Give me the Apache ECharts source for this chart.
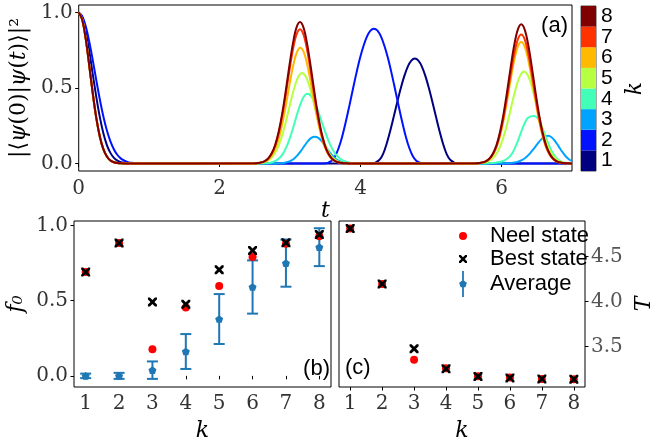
<!DOCTYPE html>
<html>
<head>
<meta charset="utf-8">
<script src="https://cdn.jsdelivr.net/npm/echarts@6/dist/echarts.min.js"></script>
<style>
html, body { margin: 0; padding: 0; background: #fff; }
#chart { width: 656px; height: 447px; }
</style>
</head>
<body>
<div id="chart"></div>
<script>
// ---------- panel (a): return probability for chain lengths k = 1..8 ----------
const kLabels = ['1', '2', '3', '4', '5', '6', '7', '8'];
const kColors = ['#000080', '#0012ff', '#00a4ff', '#41ffb6', '#b6ff41', '#ffb900', '#ff3200', '#800000'];
const tTicks = [0, 2, 4, 6];
const probTicks = [0, 0.5, 1.0];

// fast initial decay shared by k = 3..8
const decayFast = [[0,1],[0.05,0.953],[0.1,0.825],[0.15,0.649],[0.2,0.463],[0.25,0.30],[0.3,0.177],[0.35,0.095],[0.4,0.046],[0.45,0.02],[0.5,0.008],[0.55,0.003],[0.6,0.001],[0.65,0]];

const curveK1 = [[0,1],[0.05,0.968],[0.1,0.877],[0.15,0.744],[0.2,0.59],[0.25,0.44],[0.3,0.307],[0.35,0.2],[0.4,0.122],[0.45,0.07],[0.5,0.037],[0.55,0.019],[0.6,0.009],[0.65,0.004],[0.7,0.001],[0.75,0],
  [4.17,0],[4.22,0.008],[4.27,0.025],[4.32,0.064],[4.37,0.131],[4.42,0.215],[4.47,0.309],[4.52,0.406],[4.57,0.498],[4.62,0.579],[4.67,0.642],[4.72,0.681],[4.77,0.695],
  [4.82,0.681],[4.87,0.642],[4.92,0.579],[4.97,0.498],[5.02,0.406],[5.07,0.309],[5.12,0.215],[5.17,0.131],[5.22,0.064],[5.27,0.025],[5.32,0.008],[5.37,0],[7,0]];

const curveK2 = [[0,1],[0.05,0.976],[0.1,0.909],[0.15,0.807],[0.2,0.683],[0.25,0.551],[0.3,0.424],[0.35,0.311],[0.4,0.218],[0.45,0.146],[0.5,0.093],[0.55,0.056],[0.6,0.032],[0.65,0.018],[0.7,0.009],[0.75,0.004],[0.8,0.002],[0.85,0],
  [3.49,0],[3.54,0.005],[3.59,0.018],[3.64,0.05],[3.69,0.104],[3.74,0.181],[3.79,0.276],[3.84,0.381],[3.89,0.49],[3.94,0.597],[3.99,0.695],[4.04,0.777],[4.09,0.84],[4.14,0.88],[4.19,0.893],
  [4.24,0.88],[4.29,0.84],[4.34,0.777],[4.39,0.695],[4.44,0.597],[4.49,0.49],[4.54,0.381],[4.59,0.276],[4.64,0.181],[4.69,0.104],[4.74,0.05],[4.79,0.018],[4.84,0.005],[4.89,0],[7,0]];

const curveK3 = [...decayFast,
  [2.8,0],[2.85,0.001],[2.9,0.003],[2.95,0.008],[3.0,0.016],[3.05,0.03],[3.1,0.052],[3.15,0.081],[3.2,0.114],[3.25,0.146],[3.3,0.169],[3.35,0.177],
  [3.4,0.169],[3.45,0.146],[3.5,0.114],[3.55,0.081],[3.6,0.052],[3.65,0.03],[3.7,0.016],[3.75,0.008],[3.8,0.003],[3.85,0.001],[3.9,0],
  [6.01,0],[6.06,0.001],[6.11,0.002],[6.16,0.004],[6.21,0.008],[6.26,0.016],[6.31,0.028],[6.36,0.046],[6.41,0.07],[6.46,0.099],[6.51,0.13],[6.56,0.158],[6.61,0.177],[6.66,0.184],
  [6.71,0.174],[6.76,0.148],[6.81,0.113],[6.86,0.078],[6.91,0.048],[6.96,0.026],[7,0.015]];

const curveK4 = [...decayFast,
  [2.595,0],[2.645,0.001],[2.695,0.003],[2.745,0.008],[2.795,0.017],[2.845,0.034],[2.895,0.062],[2.945,0.106],[2.995,0.166],[3.045,0.24],[3.095,0.32],[3.145,0.392],[3.195,0.444],[3.245,0.462],
  [3.295,0.448],[3.345,0.408],[3.395,0.349],[3.445,0.28],[3.495,0.212],[3.545,0.15],[3.595,0.1],[3.645,0.062],[3.695,0.037],[3.745,0.02],[3.795,0.011],[3.845,0.005],[3.895,0.002],[3.945,0.001],[4.0,0],
  [5.765,0],[5.815,0.001],[5.865,0.003],[5.915,0.005],[5.965,0.009],[6.015,0.015],[6.065,0.026],[6.115,0.045],[6.165,0.078],[6.215,0.129],[6.265,0.191],[6.315,0.252],[6.365,0.298],[6.415,0.312],[6.465,0.315],
  [6.515,0.298],[6.565,0.252],[6.615,0.191],[6.665,0.129],[6.715,0.078],[6.765,0.043],[6.815,0.021],[6.865,0.009],[6.915,0.003],[6.965,0.001],[7,0]];

const curveK5 = [...decayFast,
  [2.47,0],[2.52,0.001],[2.57,0.003],[2.62,0.007],[2.67,0.016],[2.72,0.031],[2.77,0.058],[2.82,0.1],[2.87,0.161],[2.92,0.241],[2.97,0.335],[3.02,0.432],[3.07,0.518],[3.12,0.578],[3.17,0.6],
  [3.22,0.578],[3.27,0.518],[3.32,0.432],[3.37,0.335],[3.42,0.241],[3.47,0.161],[3.52,0.1],[3.57,0.058],[3.62,0.031],[3.67,0.016],[3.72,0.007],[3.77,0.003],[3.82,0.001],[3.87,0],
  [5.62,0],[5.67,0.001],[5.72,0.003],[5.77,0.007],[5.82,0.016],[5.87,0.032],[5.92,0.059],[5.97,0.102],[6.02,0.163],[6.07,0.244],[6.12,0.34],[6.17,0.438],[6.22,0.526],[6.27,0.587],[6.32,0.609],
  [6.37,0.587],[6.42,0.526],[6.47,0.438],[6.52,0.34],[6.57,0.244],[6.62,0.163],[6.67,0.102],[6.72,0.059],[6.77,0.032],[6.82,0.016],[6.87,0.007],[6.92,0.003],[6.97,0.001],[7,0]];

const curveK6 = [...decayFast,
  [2.495,0],[2.545,0.002],[2.595,0.006],[2.645,0.013],[2.695,0.028],[2.745,0.056],[2.795,0.104],[2.845,0.176],[2.895,0.276],[2.945,0.399],[2.995,0.532],[3.045,0.651],[3.095,0.736],[3.145,0.767],
  [3.195,0.736],[3.245,0.651],[3.295,0.532],[3.345,0.399],[3.395,0.276],[3.445,0.176],[3.495,0.104],[3.545,0.056],[3.595,0.028],[3.645,0.013],[3.695,0.006],[3.745,0.002],[3.795,0.001],[3.845,0],
  [5.63,0],[5.68,0.002],[5.73,0.006],[5.78,0.014],[5.83,0.029],[5.88,0.059],[5.93,0.109],[5.98,0.185],[6.03,0.289],[6.08,0.418],[6.13,0.557],[6.18,0.683],[6.23,0.772],[6.28,0.804],
  [6.33,0.772],[6.38,0.683],[6.43,0.557],[6.48,0.418],[6.53,0.289],[6.58,0.185],[6.63,0.109],[6.68,0.059],[6.73,0.029],[6.78,0.014],[6.83,0.006],[6.88,0.002],[6.93,0.001],[6.98,0],[7,0]];

const curveK7 = [...decayFast,
  [2.49,0],[2.54,0.002],[2.59,0.006],[2.64,0.015],[2.69,0.033],[2.74,0.065],[2.79,0.12],[2.84,0.204],[2.89,0.32],[2.94,0.462],[2.99,0.616],[3.04,0.755],[3.09,0.853],[3.14,0.889],
  [3.19,0.853],[3.24,0.755],[3.29,0.616],[3.34,0.462],[3.39,0.32],[3.44,0.204],[3.49,0.12],[3.54,0.065],[3.59,0.033],[3.64,0.015],[3.69,0.006],[3.74,0.002],[3.79,0.001],[3.84,0],
  [5.63,0],[5.68,0.002],[5.73,0.006],[5.78,0.014],[5.83,0.031],[5.88,0.063],[5.93,0.115],[5.98,0.197],[6.03,0.308],[6.08,0.445],[6.13,0.593],[6.18,0.726],[6.23,0.821],[6.28,0.855],
  [6.33,0.821],[6.38,0.726],[6.43,0.593],[6.48,0.445],[6.53,0.308],[6.58,0.197],[6.63,0.115],[6.68,0.063],[6.73,0.031],[6.78,0.014],[6.83,0.006],[6.88,0.002],[6.93,0.001],[6.98,0],[7,0]];

const curveK8 = [...decayFast,
  [2.49,0.001],[2.54,0.003],[2.59,0.007],[2.64,0.016],[2.69,0.034],[2.74,0.069],[2.79,0.126],[2.84,0.216],[2.89,0.337],[2.94,0.487],[2.99,0.649],[3.04,0.796],[3.09,0.9],[3.14,0.937],
  [3.19,0.9],[3.24,0.796],[3.29,0.649],[3.34,0.487],[3.39,0.337],[3.44,0.216],[3.49,0.126],[3.54,0.069],[3.59,0.034],[3.64,0.016],[3.69,0.007],[3.74,0.003],[3.79,0.001],[3.84,0],
  [5.63,0.001],[5.68,0.003],[5.73,0.007],[5.78,0.016],[5.83,0.034],[5.88,0.068],[5.93,0.124],[5.98,0.212],[6.03,0.332],[6.08,0.479],[6.13,0.639],[6.18,0.783],[6.23,0.885],[6.28,0.922],
  [6.33,0.885],[6.38,0.783],[6.43,0.639],[6.48,0.479],[6.53,0.332],[6.58,0.212],[6.63,0.124],[6.68,0.068],[6.73,0.034],[6.78,0.016],[6.83,0.007],[6.88,0.003],[6.93,0.001],[6.98,0],[7,0]];

const curves = [curveK1, curveK2, curveK3, curveK4, curveK5, curveK6, curveK7, curveK8];

// ---------- panels (b) and (c): fidelity f0 and time T versus k ----------
const kValues = [1, 2, 3, 4, 5, 6, 7, 8];
const neelF0 = [0.69, 0.883, 0.177, 0.454, 0.597, 0.79, 0.879, 0.929];
const bestF0 = [0.69, 0.883, 0.491, 0.476, 0.706, 0.834, 0.885, 0.94];
const avgF0 = [0.0, 0.0, 0.038, 0.162, 0.378, 0.591, 0.75, 0.856];
const avgErr = [0.015, 0.02, 0.058, 0.116, 0.166, 0.177, 0.157, 0.126];
const neelT = [4.81, 4.195, 3.353, 3.26, 3.172, 3.158, 3.142, 3.138];
const bestT = [4.81, 4.195, 3.475, 3.253, 3.168, 3.153, 3.142, 3.138];
const f0Ticks = [0, 0.5, 1.0];
const tTicksRight = [3.5, 4.0, 4.5];

const SERIF = '"DejaVu Serif", serif';
const SANS = '"Liberation Sans", Arial, sans-serif';
const tickColor = '#333';

const pentagon = 'path://M0,-1L0.951,-0.309L0.588,0.809L-0.588,0.809L-0.951,-0.309Z';
const cross = 'path://M0,0L2.2,0L5,2.8L7.8,0L10,0L10,2.2L7.2,5L10,7.8L10,10L7.8,10L5,7.2L2.2,10L0,10L0,7.8L2.8,5L0,2.2Z';
const errIcon = 'path://M-0.22,-3.2L0.22,-3.2L0.22,3.2L-0.22,3.2Z M0,-1L0.951,-0.309L0.588,0.809L-0.588,0.809L-0.951,-0.309Z';

function tickAxis(extra) {
  return Object.assign({
    type: 'value',
    axisLine: { show: false },
    splitLine: { show: false },
    axisTick: { length: 3.5, lineStyle: { color: '#000', width: 1 } },
    axisLabel: { fontFamily: SERIF, fontSize: 20, color: tickColor }
  }, extra);
}

const lineSeries = curves.map((c, i) => ({
  type: 'line',
  name: 'k' + kLabels[i],
  xAxisIndex: 0, yAxisIndex: 0,
  data: c,
  smooth: 0.35,
  showSymbol: false,
  silent: true,
  lineStyle: { color: kColors[i], width: 2 },
  itemStyle: { color: kColors[i] },
  z: 2 + i
}));

const errData = kValues.map((k, i) => [k, avgF0[i] - avgErr[i], avgF0[i] + avgErr[i]]);

const option = {
  animation: false,
  backgroundColor: '#fff',
  grid: [
    { left: 75, top: 5, width: 497, height: 166, show: true, borderColor: '#000', borderWidth: 1 },
    { left: 581, top: 6, width: 15, height: 165, show: true, borderColor: '#222', borderWidth: 0.8 },
    { left: 74, top: 221, width: 257, height: 166, show: true, borderColor: '#000', borderWidth: 1 },
    { left: 339, top: 221, width: 257, height: 166, show: true, borderColor: '#000', borderWidth: 1 }
  ],
  xAxis: [
    tickAxis({ gridIndex: 0, min: 0, max: 7,
      axisTick: { customValues: tTicks, length: 3.5, lineStyle: { color: '#000' } },
      axisLabel: { customValues: tTicks, fontFamily: SERIF, fontSize: 20, color: tickColor, margin: 8 },
      name: 't', nameLocation: 'middle', nameGap: 18,
      nameTextStyle: { fontFamily: SERIF, fontStyle: 'italic', fontSize: 22, color: '#000' } }),
    { gridIndex: 1, type: 'value', min: 0, max: 1, show: false },
    tickAxis({ gridIndex: 2, min: 0.65, max: 8.35,
      axisTick: { customValues: kValues, length: 3.5, lineStyle: { color: '#000' } },
      axisLabel: { customValues: kValues, fontFamily: SERIF, fontSize: 20, color: tickColor, margin: 7 },
      name: 'k', nameLocation: 'middle', nameGap: 33,
      nameTextStyle: { fontFamily: SERIF, fontStyle: 'italic', fontSize: 22, color: '#000' } }),
    tickAxis({ gridIndex: 3, min: 0.65, max: 8.35,
      axisTick: { customValues: kValues, length: 3.5, lineStyle: { color: '#000' } },
      axisLabel: { customValues: kValues, fontFamily: SERIF, fontSize: 20, color: tickColor, margin: 7 },
      name: 'k', nameLocation: 'middle', nameGap: 33,
      nameTextStyle: { fontFamily: SERIF, fontStyle: 'italic', fontSize: 22, color: '#000' } })
  ],
  yAxis: [
    tickAxis({ gridIndex: 0, min: -0.05, max: 1.05,
      axisTick: { customValues: probTicks, length: 3.5, lineStyle: { color: '#000' } },
      axisLabel: { customValues: probTicks, fontFamily: SERIF, fontSize: 20, color: tickColor, margin: 6,
        formatter: v => Number(v).toFixed(1) },
      name: '{r|\u007C\u27E8}{i|\u03C8}{r|(0)\u007C}{i|\u03C8}{r|(}{i|t}{r|)\u27E9\u007C\u00B2}',
      nameLocation: 'middle', nameRotate: 90, nameGap: 44,
      nameTextStyle: { rich: {
        r: { fontFamily: SERIF, fontSize: 22, color: '#000' },
        i: { fontFamily: SERIF, fontStyle: 'italic', fontSize: 22, color: '#000' } } } }),
    { gridIndex: 1, type: 'category', data: kLabels, position: 'right',
      axisLine: { show: false }, splitLine: { show: false },
      axisTick: { alignWithLabel: true, interval: 0, length: 3.5, lineStyle: { color: '#000' } },
      axisLabel: { interval: 0, fontFamily: SANS, fontSize: 21, color: '#000', margin: 5 },
      name: 'k', nameLocation: 'middle', nameRotate: 90, nameGap: 28,
      nameTextStyle: { fontFamily: SERIF, fontStyle: 'italic', fontSize: 22, color: '#000' } },
    tickAxis({ gridIndex: 2, min: -0.074, max: 1.03,
      axisTick: { customValues: f0Ticks, length: 3.5, lineStyle: { color: '#000' } },
      axisLabel: { customValues: f0Ticks, fontFamily: SERIF, fontSize: 20, color: tickColor, margin: 6,
        formatter: v => Number(v).toFixed(1) },
      name: 'f\u2080', nameLocation: 'middle', nameRotate: 90, nameGap: 47,
      nameTextStyle: { fontFamily: SERIF, fontStyle: 'italic', fontSize: 22, color: '#000' } }),
    tickAxis({ gridIndex: 3, min: 3.052, max: 4.892, position: 'right',
      axisTick: { customValues: tTicksRight, length: 3.5, lineStyle: { color: '#000' } },
      axisLabel: { customValues: tTicksRight, fontFamily: SERIF, fontSize: 20, color: '#555', margin: 6,
        formatter: v => Number(v).toFixed(1) },
      name: 'T', nameLocation: 'middle', nameRotate: 90, nameGap: 48,
      nameTextStyle: { fontFamily: SERIF, fontStyle: 'italic', fontSize: 22, color: '#000' } })
  ],
  legend: {
    orient: 'vertical', left: 459, top: 225, padding: 0,
    itemWidth: 8, itemHeight: 26, itemGap: 1,
    symbolKeepAspect: true, selectedMode: false,
    textStyle: { fontFamily: SANS, fontSize: 22, color: '#000', padding: [0, 0, 0, 18] },
    data: [
      { name: 'Neel state', icon: 'circle' },
      { name: 'Best state', icon: cross },
      { name: 'Average', icon: errIcon }
    ]
  },
  graphic: [
    { type: 'text', x: 568, y: 26, silent: true,
      style: { text: '(a)', fontFamily: SANS, fontSize: 22, fill: '#000', align: 'right', verticalAlign: 'middle' } },
    { type: 'text', x: 330, y: 369, silent: true,
      style: { text: '(b)', fontFamily: SANS, fontSize: 22, fill: '#000', align: 'right', verticalAlign: 'middle' } },
    { type: 'text', x: 345, y: 368, silent: true,
      style: { text: '(c)', fontFamily: SANS, fontSize: 22, fill: '#000', align: 'left', verticalAlign: 'middle' } }
  ],
  series: [
    ...lineSeries,
    { type: 'bar', xAxisIndex: 1, yAxisIndex: 1, silent: true, barWidth: '100%',
      data: kLabels.map((k, i) => ({ value: 1, itemStyle: { color: kColors[i] } })) },
    { type: 'custom', name: 'AverageErr', xAxisIndex: 2, yAxisIndex: 2, silent: true, z: 3,
      data: errData, encode: { x: 0, y: [1, 2] },
      renderItem: (params, api) => {
        const x = api.value(0);
        const lo = api.coord([x, api.value(1)]);
        const hi = api.coord([x, api.value(2)]);
        const hw = 5.5;
        const st = { stroke: '#1f77b4', lineWidth: 2 };
        return { type: 'group', children: [
          { type: 'line', shape: { x1: lo[0], y1: lo[1], x2: hi[0], y2: hi[1] }, style: st },
          { type: 'line', shape: { x1: lo[0] - hw, y1: lo[1], x2: lo[0] + hw, y2: lo[1] }, style: st },
          { type: 'line', shape: { x1: hi[0] - hw, y1: hi[1], x2: hi[0] + hw, y2: hi[1] }, style: st }
        ] };
      } },
    { type: 'scatter', name: 'Average', xAxisIndex: 2, yAxisIndex: 2, silent: true, z: 4,
      symbol: pentagon, symbolSize: 8, symbolKeepAspect: true,
      itemStyle: { color: '#1f77b4', opacity: 1 },
      data: kValues.map((k, i) => [k, avgF0[i]]) },
    { type: 'scatter', name: 'Neel state', xAxisIndex: 2, yAxisIndex: 2, silent: true, z: 5,
      symbol: 'circle', symbolSize: 8, itemStyle: { color: '#ff0000', opacity: 1 },
      data: kValues.map((k, i) => [k, neelF0[i]]) },
    { type: 'scatter', name: 'Best state', xAxisIndex: 2, yAxisIndex: 2, silent: true, z: 6,
      symbol: cross, symbolSize: 9, itemStyle: { color: '#000', opacity: 1 },
      data: kValues.map((k, i) => [k, bestF0[i]]) },
    { type: 'scatter', name: 'Neel state', xAxisIndex: 3, yAxisIndex: 3, silent: true, z: 5,
      symbol: 'circle', symbolSize: 8, itemStyle: { color: '#ff0000', opacity: 1 },
      data: kValues.map((k, i) => [k, neelT[i]]) },
    { type: 'scatter', name: 'Best state', xAxisIndex: 3, yAxisIndex: 3, silent: true, z: 6,
      symbol: cross, symbolSize: 9, itemStyle: { color: '#000', opacity: 1 },
      data: kValues.map((k, i) => [k, bestT[i]]) }
  ]
};

const chart = echarts.init(document.getElementById('chart'), null, { renderer: 'canvas' });
chart.setOption(option);
</script>
</body>
</html>
